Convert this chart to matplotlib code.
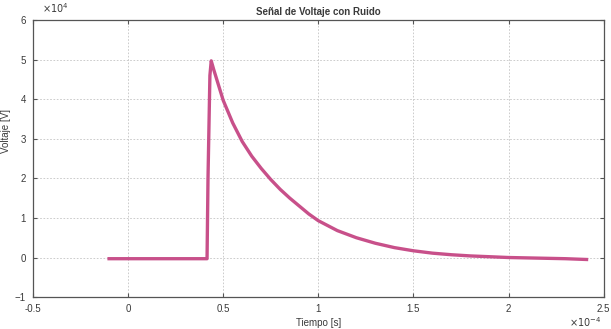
import matplotlib.pyplot as plt
from matplotlib.ticker import MultipleLocator

plt.rcParams['font.family'] = ['Liberation Sans', 'DejaVu Sans']

# Time in units of 1e-4 s, voltage in units of 1e4 V
tiempo = [-0.1, 0.0, 0.1, 0.2, 0.3, 0.415, 0.42, 0.43, 0.437,
          0.45, 0.5, 0.55, 0.6, 0.65, 0.7, 0.75, 0.8, 0.85, 0.9, 0.95,
          1.0, 1.1, 1.2, 1.3, 1.4, 1.5, 1.6, 1.7, 1.8, 1.9, 2.0,
          2.1, 2.2, 2.3, 2.41]
voltaje = [-0.03, -0.03, -0.03, -0.03, -0.03, -0.03, 2.0, 4.6, 4.97,
           4.75, 3.97, 3.4, 2.93, 2.56, 2.25, 1.97, 1.72, 1.5, 1.3, 1.1,
           0.93, 0.68, 0.5, 0.36, 0.25, 0.17, 0.11, 0.07, 0.04, 0.02, 0.0,
           -0.01, -0.02, -0.03, -0.05]

xticks = [-0.5, 0, 0.5, 1, 1.5, 2, 2.5]
xticklabels = ['-0.5', '0', '0.5', '1', '1.5', '2', '2.5']
yticks = [-1, 0, 1, 2, 3, 4, 5, 6]

txt = '#3a3a3a'
fig = plt.figure(figsize=(6.11, 3.29), dpi=100)
ax = fig.add_axes([0.054, 0.097, 0.934, 0.842])

ax.plot(tiempo, voltaje, color='#c8508a', lw=2.4, solid_joinstyle='round')

ax.set_xlim(-0.5, 2.5)
ax.set_ylim(-1, 6)
ax.set_xticks(xticks)
ax.set_xticklabels(xticklabels)
ax.set_yticks(yticks)
ax.yaxis.set_major_locator(MultipleLocator(1))
ax.tick_params(direction='in', top=True, right=True, length=3, width=0.8,
               labelsize=7, colors='#555555', labelcolor=txt, pad=5)
ax.grid(True, linestyle=(0, (2, 2)), color='#c4c4c4', lw=0.6)
for s in ax.spines.values():
    s.set_color('#555555')
    s.set_linewidth(0.9)

ax.set_title('Señal de Voltaje con Ruido', fontsize=7, fontweight='bold',
             color=txt, pad=4)
ax.set_xlabel('Tiempo [s]', fontsize=7, color=txt, labelpad=3)
ax.set_ylabel('Voltaje [V]', fontsize=7, color=txt, labelpad=2)
ax.yaxis.set_label_coords(-0.038, 0.6)

fig.text(0.068, 0.955, r'$\times10^{4}$', fontsize=7, color=txt,
         ha='left', va='bottom')
fig.text(0.958, 0.0, r'$\times10^{-4}$', fontsize=7, color=txt,
         ha='center', va='bottom')

fig.savefig('out.png', dpi=100)
